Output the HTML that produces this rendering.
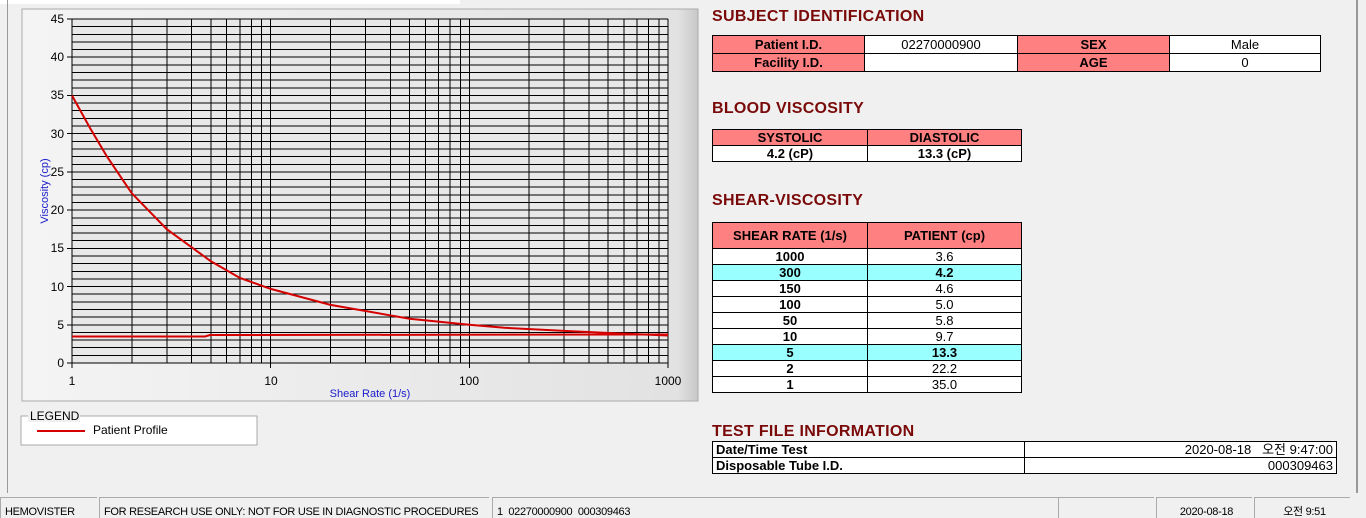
<!DOCTYPE html>
<html><head><meta charset="utf-8"><style>
body{margin:0;width:1366px;height:518px;background:#f0f0f0;position:relative;overflow:hidden;font-family:"Liberation Sans","Noto Sans CJK KR",sans-serif}
.a{position:absolute}
h2{position:absolute;margin:0;font-size:16px;font-weight:bold;color:#7a0a0a;letter-spacing:0.3px}
table{position:absolute;border-collapse:collapse;font-size:13px}
td{border:1px solid #000;text-align:center;padding:0;height:17px;line-height:15px}
.p{background:#ff8080;font-weight:bold}
.w{background:#fff}
.c{background:#99ffff;font-weight:bold}
.b{font-weight:bold}
.sb{position:absolute;top:497px;height:21px;border-left:1px solid #aaa;border-top:1px solid #aaa;font-size:11px;letter-spacing:-0.3px;line-height:28px;padding-left:4px;box-sizing:border-box;white-space:nowrap;overflow:hidden}
</style></head><body>
<div class="a" style="left:0;top:0;width:460px;height:4px;background:#fff"></div>
<div class="a" style="left:7px;top:0;width:1px;height:493px;background:#999"></div>
<div class="a" style="left:1356px;top:0;width:2px;height:493px;background:#999"></div>
<svg class="a" style="left:0;top:0" width="700" height="460">
<defs><linearGradient id="g" x1="0" x2="1"><stop offset="0" stop-color="#f4f4f4"/><stop offset="0.97" stop-color="#e2e2e2"/><stop offset="1" stop-color="#c8c8c8"/></linearGradient></defs>
<rect x="22" y="9" width="676" height="392" fill="url(#g)" stroke="#aaa"/>
<rect x="72" y="19" width="596" height="344" fill="#e8e8e8"/>
<g stroke="#000" stroke-width="1" shape-rendering="crispEdges">
<path d="M72 363H668M72 355.4H668M72 347.7H668M72 340.1H668M72 332.4H668M72 324.8H668M72 317.1H668M72 309.5H668M72 301.8H668M72 294.2H668M72 286.6H668M72 278.9H668M72 271.3H668M72 263.6H668M72 256H668M72 248.3H668M72 240.7H668M72 233.1H668M72 225.4H668M72 217.8H668M72 210.1H668M72 202.5H668M72 194.8H668M72 187.2H668M72 179.5H668M72 171.9H668M72 164.3H668M72 156.6H668M72 149H668M72 141.3H668M72 133.7H668M72 126H668M72 118.4H668M72 110.7H668M72 103.1H668M72 95.5H668M72 87.8H668M72 80.2H668M72 72.5H668M72 64.9H668M72 57.2H668M72 49.6H668M72 42H668M72 34.3H668M72 26.7H668M72 19H668"/>
<path d="M72 19V363M131.8 19V363M166.8 19V363M191.6 19V363M210.9 19V363M226.6 19V363M239.9 19V363M251.4 19V363M261.6 19V363M270.7 19V363M330.5 19V363M365.5 19V363M390.3 19V363M409.6 19V363M425.3 19V363M438.6 19V363M450.1 19V363M460.3 19V363M469.3 19V363M529.1 19V363M564.1 19V363M588.9 19V363M608.2 19V363M624 19V363M637.2 19V363M648.7 19V363M659 19V363M668 19V363"/>
<path d="M67 19H72M67 57.2H72M67 95.5H72M67 133.7H72M67 171.9H72M67 210.1H72M67 248.4H72M67 286.6H72M67 324.8H72M67 363H72M72 363V368M270.7 363V368M469.3 363V368M668 363V368"/>
</g>
<g font-size="12" fill="#000" text-anchor="end">
<text x="64" y="23">45</text><text x="64" y="61">40</text><text x="64" y="99">35</text><text x="64" y="138">30</text><text x="64" y="176">25</text><text x="64" y="214">20</text><text x="64" y="252">15</text><text x="64" y="291">10</text><text x="64" y="329">5</text><text x="64" y="367">0</text></g>
<g font-size="12" fill="#000" text-anchor="middle"><text x="72" y="385">1</text><text x="271" y="385">10</text><text x="469" y="385">100</text><text x="668" y="385">1000</text></g>
<text x="370" y="397" font-size="11" fill="#1a1acc" text-anchor="middle">Shear Rate (1/s)</text>
<text transform="translate(48,191) rotate(-90)" font-size="11" fill="#1a1acc" text-anchor="middle">Viscosity (cp)</text>
<polyline fill="none" stroke="#d40000" stroke-width="2" points="72,95.5 90,128 107,156.6 131.8,193.3 166.8,229.2 210.9,261.3 240,278 270.7,288.9 330.5,304.9 409.6,318.7 469.3,324.8 504.3,327.8 564.1,330.9 620,333.5 668,335.5"/>
<polyline fill="none" stroke="#d40000" stroke-width="2" points="72,336.5 205,336.5 210,335 668,334.5"/>
<rect x="21" y="416" width="236" height="29" fill="#fff" stroke="#aaa"/>
<rect x="28" y="410" width="52" height="12" fill="#f0f0f0"/>
<text x="30" y="420" font-size="12">LEGEND</text>
<line x1="37" y1="431" x2="85" y2="431" stroke="#d40000" stroke-width="2"/>
<text x="93" y="434" font-size="12">Patient Profile</text>
</svg>
<h2 style="left:712px;top:8px">SUBJECT IDENTIFICATION</h2>
<table style="left:712px;top:35px;width:609px"><tr><td class="p" style="width:151px">Patient I.D.</td><td class="w" style="width:152px">02270000900</td><td class="p" style="width:151px">SEX</td><td class="w">Male</td></tr>
<tr><td class="p">Facility I.D.</td><td class="w"></td><td class="p">AGE</td><td class="w">0</td></tr></table>
<h2 style="left:712px;top:100px">BLOOD VISCOSITY</h2>
<table style="left:712px;top:129px;width:310px"><tr><td class="p" style="width:154px;height:15px;line-height:13px">SYSTOLIC</td><td class="p" style="height:15px;line-height:13px">DIASTOLIC</td></tr>
<tr><td class="w b" style="height:15px;line-height:13px">4.2 (cP)</td><td class="w b" style="height:15px;line-height:13px">13.3 (cP)</td></tr></table>
<h2 style="left:712px;top:192px">SHEAR-VISCOSITY</h2>
<table style="left:712px;top:222px;width:310px"><tr><td class="p" style="width:154px;height:25px">SHEAR RATE (1/s)</td><td class="p" style="height:25px">PATIENT (cp)</td></tr>
<tr><td class="w b" style="height:15px;line-height:13px">1000</td><td class="w" style="height:15px;line-height:13px">3.6</td></tr>
<tr><td class="c" style="height:15px;line-height:13px">300</td><td class="c" style="height:15px;line-height:13px">4.2</td></tr>
<tr><td class="w b" style="height:15px;line-height:13px">150</td><td class="w" style="height:15px;line-height:13px">4.6</td></tr>
<tr><td class="w b" style="height:15px;line-height:13px">100</td><td class="w" style="height:15px;line-height:13px">5.0</td></tr>
<tr><td class="w b" style="height:15px;line-height:13px">50</td><td class="w" style="height:15px;line-height:13px">5.8</td></tr>
<tr><td class="w b" style="height:15px;line-height:13px">10</td><td class="w" style="height:15px;line-height:13px">9.7</td></tr>
<tr><td class="c" style="height:15px;line-height:13px">5</td><td class="c" style="height:15px;line-height:13px">13.3</td></tr>
<tr><td class="w b" style="height:15px;line-height:13px">2</td><td class="w" style="height:15px;line-height:13px">22.2</td></tr>
<tr><td class="w b" style="height:15px;line-height:13px">1</td><td class="w" style="height:15px;line-height:13px">35.0</td></tr></table>
<h2 style="left:712px;top:423px">TEST FILE INFORMATION</h2>
<table style="left:712px;top:441px;width:625px"><tr><td class="w b" style="width:308px;text-align:left;padding-left:3px;height:15px;line-height:13px">Date/Time Test</td><td class="w" style="text-align:right;padding-right:3px;height:15px;line-height:13px">2020-08-18 &nbsp;&nbsp;오전 9:47:00</td></tr>
<tr><td class="w b" style="text-align:left;padding-left:3px;height:15px;line-height:13px">Disposable Tube I.D.</td><td class="w" style="text-align:right;padding-right:3px;height:15px;line-height:13px">000309463</td></tr></table>
<div class="a" style="left:0;top:496px;width:1366px;height:22px;background:#f0f0f0"></div>
<div class="sb" style="left:0;width:97px">HEMOVISTER</div>
<div class="sb" style="left:99px;width:390px">FOR RESEARCH USE ONLY: NOT FOR USE IN DIAGNOSTIC PROCEDURES</div>
<div class="sb" style="left:492px;width:566px">1 &nbsp;02270000900 &nbsp;000309463</div>
<div class="sb" style="left:1058px;width:96px"></div>
<div class="sb" style="left:1156px;width:96px;text-align:center">2020-08-18</div>
<div class="sb" style="left:1254px;width:96px;text-align:center">오전 9:51</div>
</body></html>
